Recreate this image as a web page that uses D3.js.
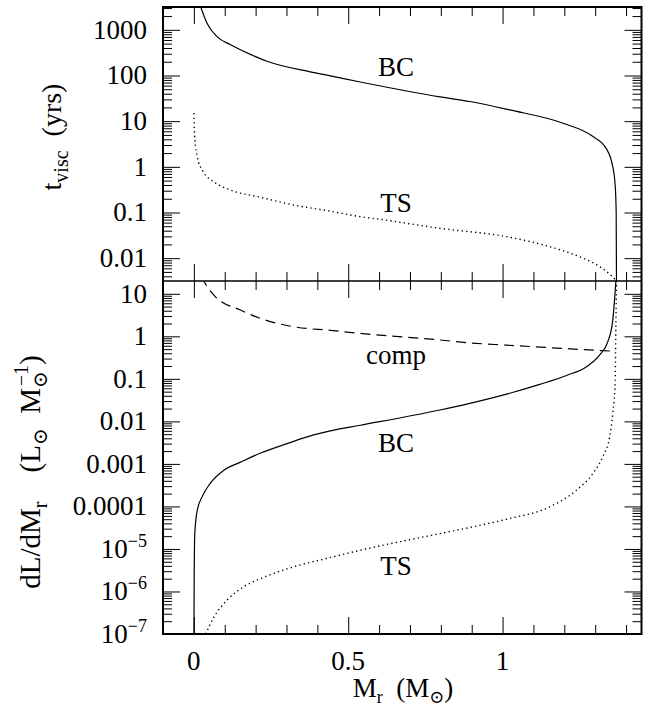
<!DOCTYPE html>
<html>
<head>
<meta charset="utf-8">
<script src="https://cdn.jsdelivr.net/npm/d3@7"></script>
<style>
  body { margin: 0; background: #fff; }
  text { font-family: 'Liberation Serif', 'DejaVu Serif', serif; fill: #000; }
</style>
</head>
<body>
<div class="svg-div"></div>
<script>
// M_r (solar masses) and the value
const topBC = [[0.017, 4000], [0.043, 1380], [0.076, 700], [0.119, 470], [0.183, 290], [0.237, 205],
  [0.377, 120], [0.442, 98], [0.539, 72], [0.797, 34], [0.894, 27], [1.023, 17.6], [1.196, 9.0],
  [1.293, 4.6], [1.336, 2.5], [1.357, 1.0], [1.365, 0.37], [1.368, 0.098], [1.369, 0.0025]]
const topTS = [[0.0, 15], [0.003, 3.9], [0.011, 1.67], [0.027, 0.85], [0.065, 0.47], [0.119, 0.31],
  [0.216, 0.215], [0.323, 0.146], [0.431, 0.11], [0.539, 0.081], [0.603, 0.071], [0.797, 0.045],
  [1.013, 0.0295], [1.153, 0.0178], [1.25, 0.0107], [1.315, 0.0065], [1.356, 0.0039], [1.368, 0.0032]]
const botBC = [[0.0, 5e-8], [0.001, 1.9e-6], [0.003, 2.3e-5], [0.011, 8.1e-5], [0.027, 1.7e-4],
  [0.053, 3.5e-4], [0.097, 7.1e-4], [0.151, 1.1e-3], [0.216, 1.8e-3], [0.302, 3.0e-3], [0.388, 4.8e-3],
  [0.442, 6.0e-3], [0.539, 8.1e-3], [0.797, 0.0185], [0.894, 0.0265], [1.013, 0.0437], [1.12, 0.074],
  [1.207, 0.12], [1.272, 0.193], [1.314, 0.36], [1.341, 0.75], [1.357, 2.4], [1.365, 12.3], [1.368, 25]]
const botComp = [[0.025, 25], [0.043, 14.7], [0.07, 8.5], [0.151, 4.15], [0.216, 2.63], [0.323, 1.68],
  [0.442, 1.38], [0.539, 1.17], [0.797, 0.82], [0.894, 0.70], [1.013, 0.62], [1.175, 0.53],
  [1.325, 0.46], [1.366, 0.445]]
const botTS = [[0.038, 1e-7], [0.065, 2.5e-7], [0.108, 6.3e-7], [0.162, 1.3e-6], [0.216, 2.0e-6],
  [0.323, 3.8e-6], [0.431, 6.0e-6], [0.539, 9.3e-6], [0.797, 2.3e-5], [0.894, 3.2e-5], [1.013, 5.0e-5],
  [1.153, 9.8e-5], [1.239, 2.4e-4], [1.293, 6.0e-4], [1.325, 1.5e-3], [1.347, 4.4e-3], [1.357, 0.0155],
  [1.365, 0.093], [1.366, 0.48], [1.368, 6.0], [1.369, 25]]

const xMajor = [0, 0.5, 1]
const xMajorLabels = ['0', '0.5', '1']
const xMinor = [0.1, 0.2, 0.3, 0.4, 0.6, 0.7, 0.8, 0.9, 1.1, 1.2, 1.3, 1.4]
const topMajor = [0.01, 0.1, 1, 10, 100, 1000]
const topLabels = [['0.01'], ['0.1'], ['1'], ['10'], ['100'], ['1000']]
const botMajor = [1e-7, 1e-6, 1e-5, 1e-4, 1e-3, 0.01, 0.1, 1, 10]
const botLabels = [['10', '−7'], ['10', '−6'], ['10', '−5'], ['0.0001'], ['0.001'], ['0.01'], ['0.1'], ['1'], ['10']]

const w = 646
const h = 709
const fLeft = 163, fRight = 641.5, fTop = 7, fMid = 281, fBottom = 634

const xScale = d3.scaleLinear().domain([-0.1, 1.45]).range([fLeft, fRight])
const yTop = d3.scaleLog().domain([Math.pow(10, -2.5), Math.pow(10, 3.5)]).range([fMid, fTop])
const yBot = d3.scaleLog().domain([1e-7, 20]).range([fBottom, fMid])

function minorLog(scale) {
  const d = scale.domain()
  const out = []
  for (let e = Math.floor(Math.log10(d[0])); e <= Math.ceil(Math.log10(d[1])); e++) {
    for (let k = 2; k <= 9; k++) {
      const v = k * Math.pow(10, e)
      if (v > d[0] && v < d[1]) out.push(v)
    }
  }
  return out
}

const svg = d3.select('.svg-div')
  .append('svg')
  .attr('width', w)
  .attr('height', h)

function panel(yScale, major, labels, series, y0, y1, name) {
  const g = svg.append('g')

  svg.append('clipPath').attr('id', 'clip-' + name)
    .append('rect')
    .attr('x', fLeft).attr('y', y1)
    .attr('width', fRight - fLeft).attr('height', y0 - y1)

  // ticks, all inward
  const axes = [
    [d3.axisLeft(yScale).tickValues(major).tickSize(-17), fLeft, null],
    [d3.axisLeft(yScale).tickValues(minorLog(yScale)).tickSize(-9), fLeft, null],
    [d3.axisRight(yScale).tickValues(major).tickSize(-17), fRight, null],
    [d3.axisRight(yScale).tickValues(minorLog(yScale)).tickSize(-9), fRight, null],
    [d3.axisBottom(xScale).tickValues(xMajor).tickSize(-17), null, y0],
    [d3.axisBottom(xScale).tickValues(xMinor).tickSize(-9), null, y0],
    [d3.axisTop(xScale).tickValues(xMajor).tickSize(-17), null, y1],
    [d3.axisTop(xScale).tickValues(xMinor).tickSize(-9), null, y1]
  ]
  axes.forEach(a => {
    const ax = g.append('g')
      .attr('transform', a[1] !== null ? 'translate(' + a[1] + ',0)' : 'translate(0,' + a[2] + ')')
      .call(a[0].tickFormat(''))
    ax.select('.domain').remove()
    ax.selectAll('line').attr('stroke', '#000').attr('stroke-width', 1)
  })

  // tick labels
  const lab = g.selectAll('.ylab')
    .data(major)
    .enter()
    .append('text')
    .attr('class', 'ylab')
    .attr('x', fLeft - 16)
    .attr('y', d => yScale(d))
    .attr('dy', '0.33em')
    .attr('text-anchor', 'end')
    .attr('font-size', 27)
  lab.each(function (d, i) {
    const t = d3.select(this)
    t.append('tspan').text(labels[i][0])
    if (labels[i][1]) {
      t.append('tspan').attr('dy', -11).attr('font-size', 18).text(labels[i][1])
    }
  })

  const line = d3.line()
    .x(d => xScale(d[0]))
    .y(d => yScale(Math.max(d[1], 1e-12)))
    .curve(d3.curveMonotoneX)

  series.forEach(s => {
    svg.append('path')
      .attr('clip-path', 'url(#clip-' + name + ')')
      .attr('d', line(s.data))
      .attr('fill', 'none')
      .attr('stroke', '#000')
      .attr('stroke-width', s.dash === 'dot' ? 1.4 : 1.2)
      .attr('stroke-dasharray', s.dash === 'dot' ? '1.3,3.2' : s.dash === 'dash' ? '10,6' : null)
  })
}

panel(yTop, topMajor, topLabels, [
  { data: topBC, dash: null },
  { data: topTS, dash: 'dot' }
], fMid, fTop, 'top')

panel(yBot, botMajor, botLabels, [
  { data: botBC, dash: null },
  { data: botComp, dash: 'dash' },
  { data: botTS, dash: 'dot' }
], fBottom, fMid, 'bot')

// frames
svg.append('rect')
  .attr('x', fLeft).attr('y', fTop)
  .attr('width', fRight - fLeft).attr('height', fBottom - fTop)
  .attr('fill', 'none').attr('stroke', '#000').attr('stroke-width', 2)
svg.append('line')
  .attr('x1', fLeft).attr('x2', fRight)
  .attr('y1', fMid).attr('y2', fMid)
  .attr('stroke', '#000').attr('stroke-width', 1.6)

// x tick labels
svg.selectAll('.xlab')
  .data(xMajor)
  .enter()
  .append('text')
  .attr('x', d => xScale(d))
  .attr('y', 670)
  .attr('text-anchor', 'middle')
  .attr('font-size', 27)
  .text((d, i) => xMajorLabels[i])

// curve labels
const curveLabels = [['BC', 76], ['TS', 212], ['comp', 364], ['BC', 452], ['TS', 575]]
svg.selectAll('.clab')
  .data(curveLabels)
  .enter()
  .append('text')
  .attr('x', 396)
  .attr('y', d => d[1])
  .attr('text-anchor', 'middle')
  .attr('font-size', 27)
  .text(d => d[0])

// axis titles
const xt = svg.append('text')
  .attr('x', 403).attr('y', 697)
  .attr('text-anchor', 'middle')
  .attr('font-size', 27)
xt.append('tspan').text('M')
xt.append('tspan').attr('font-size', 18).attr('dy', 6).text('r')
xt.append('tspan').attr('dy', -6).text('\u2002(M')
xt.append('tspan').attr('font-size', 18).attr('dy', 6).text('⊙')
xt.append('tspan').attr('dy', -6).text(')')

const yt1 = svg.append('text')
  .attr('transform', 'translate(61,137) rotate(-90)')
  .attr('text-anchor', 'middle')
  .attr('font-size', 28)
yt1.append('tspan').text('t')
yt1.append('tspan').attr('font-size', 20).attr('dy', 7).text('visc')
yt1.append('tspan').attr('dy', -7).text('\u2002(yrs)')

const yt2 = svg.append('text')
  .attr('transform', 'translate(40,472) rotate(-90)')
  .attr('text-anchor', 'middle')
  .attr('font-size', 29)
yt2.append('tspan').text('dL/dM')
yt2.append('tspan').attr('font-size', 20).attr('dy', 7).text('r')
yt2.append('tspan').attr('dy', -7).text('\u2003(L')
yt2.append('tspan').attr('font-size', 20).attr('dy', 7).text('⊙')
yt2.append('tspan').attr('dy', -7).text('\u2002M')
yt2.append('tspan').attr('font-size', 20).attr('dy', 7).text('⊙')
yt2.append('tspan').attr('font-size', 20).attr('dx', -15).attr('dy', -19).text('−1')
yt2.append('tspan').attr('dy', 12).text(')')
</script>
</body>
</html>
